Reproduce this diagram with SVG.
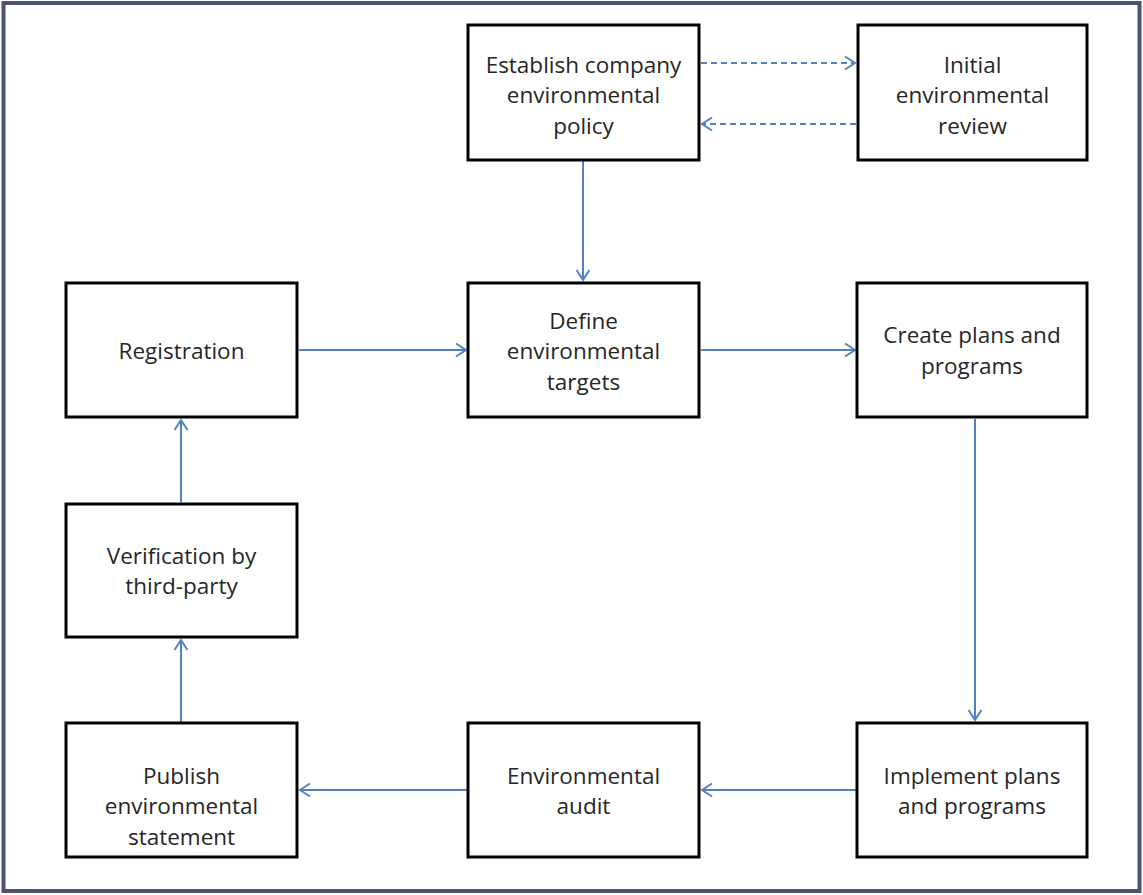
<svg xmlns="http://www.w3.org/2000/svg" width="1143" height="895" viewBox="0 0 1143 895">
  <defs>
    <style>
      .box { fill: #ffffff; stroke: #000000; stroke-width: 3; }
      .label { font-family: "Open Sans", "Liberation Sans", sans-serif; font-size: 22.5px; fill: #262626; text-anchor: middle; }
      .link { stroke: #5283c0; stroke-width: 2; fill: none; }
      .dash { stroke-dasharray: 6 4; }
    </style>
    <marker id="arrow" viewBox="0 0 14 16" refX="12" refY="8" markerWidth="14" markerHeight="16" markerUnits="userSpaceOnUse" orient="auto">
      <path d="M2,1.5 L12,8 L2,14.5" fill="none" stroke="#5283c0" stroke-width="2"/>
    </marker>
  </defs>

  <!-- page frame -->
  <rect x="0" y="0" width="1143" height="895" fill="#ffffff"/>
  <rect x="3.5" y="3" width="1136" height="888" fill="none" stroke="#4a5670" stroke-width="4"/>

  <!-- connectors -->
  <g id="connectors">
    <line class="link dash" x1="701" y1="63" x2="855" y2="63" marker-end="url(#arrow)"/>
    <line class="link dash" x1="856" y1="124" x2="702" y2="124" marker-end="url(#arrow)"/>
    <line class="link" x1="583" y1="161" x2="583" y2="280" marker-end="url(#arrow)"/>
    <line class="link" x1="299" y1="350" x2="466" y2="350" marker-end="url(#arrow)"/>
    <line class="link" x1="701" y1="350" x2="855" y2="350" marker-end="url(#arrow)"/>
    <line class="link" x1="975" y1="419" x2="975" y2="720" marker-end="url(#arrow)"/>
    <line class="link" x1="856" y1="790" x2="702" y2="790" marker-end="url(#arrow)"/>
    <line class="link" x1="467" y1="790" x2="300" y2="790" marker-end="url(#arrow)"/>
    <line class="link" x1="181" y1="722" x2="181" y2="640" marker-end="url(#arrow)"/>
    <line class="link" x1="181" y1="502" x2="181" y2="420" marker-end="url(#arrow)"/>
  </g>

  <g id="establish-policy">
    <rect class="box" x="468" y="25" width="231" height="135"/>
    <text class="label" x="583.5" y="72.5">Establish company</text>
    <text class="label" x="583.5" y="103">environmental</text>
    <text class="label" x="583.5" y="133.5">policy</text>
  </g>

  <g id="initial-review">
    <rect class="box" x="858" y="25" width="229" height="135"/>
    <text class="label" x="972.5" y="72.5">Initial</text>
    <text class="label" x="972.5" y="103">environmental</text>
    <text class="label" x="972.5" y="133.5">review</text>
  </g>

  <g id="registration">
    <rect class="box" x="66" y="283" width="231" height="134"/>
    <text class="label" x="181.5" y="359">Registration</text>
  </g>

  <g id="define-targets">
    <rect class="box" x="468" y="283" width="231" height="134"/>
    <text class="label" x="583.5" y="328.5">Define</text>
    <text class="label" x="583.5" y="359">environmental</text>
    <text class="label" x="583.5" y="389.5">targets</text>
  </g>

  <g id="create-plans">
    <rect class="box" x="857" y="283" width="230" height="134"/>
    <text class="label" x="972" y="343">Create plans and</text>
    <text class="label" x="972" y="373.5">programs</text>
  </g>

  <g id="verification">
    <rect class="box" x="66" y="504" width="231" height="133"/>
    <text class="label" x="181.5" y="563.5">Verification by</text>
    <text class="label" x="181.5" y="594">third-party</text>
  </g>

  <g id="publish-statement">
    <rect class="box" x="66" y="723" width="231" height="134"/>
    <text class="label" x="181.5" y="783.5">Publish</text>
    <text class="label" x="181.5" y="814">environmental</text>
    <text class="label" x="181.5" y="844.5">statement</text>
  </g>

  <g id="environmental-audit">
    <rect class="box" x="468" y="723" width="231" height="134"/>
    <text class="label" x="583.5" y="783.5">Environmental</text>
    <text class="label" x="583.5" y="814">audit</text>
  </g>

  <g id="implement-plans">
    <rect class="box" x="857" y="723" width="230" height="134"/>
    <text class="label" x="972" y="783.5">Implement plans</text>
    <text class="label" x="972" y="814">and programs</text>
  </g>
</svg>
